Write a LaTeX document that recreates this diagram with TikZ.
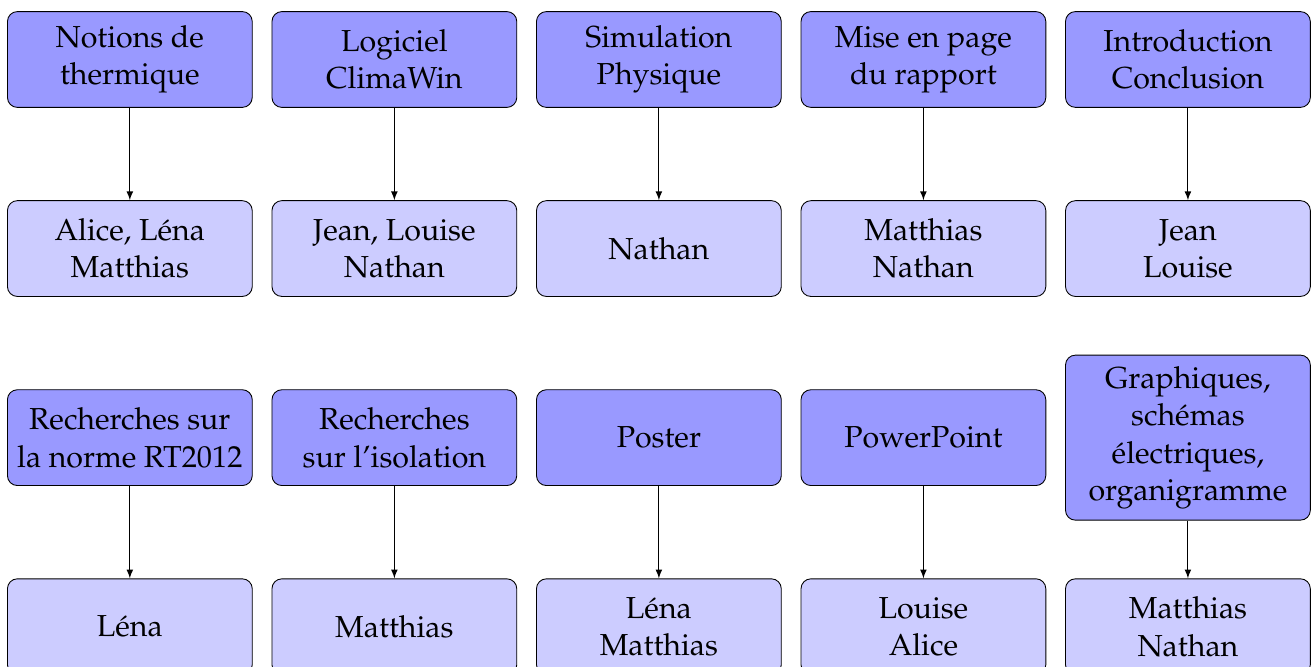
\documentclass[tikz,border=0pt]{standalone}
\usepackage[T1]{fontenc}
\usepackage{mathpazo}
\usepackage{tikz}
\usetikzlibrary{positioning}

\begin{document}
\begin{tikzpicture}[
    tache/.style={draw, rounded corners=4.5pt, fill=blue!40,
      minimum width=3.91cm, minimum height=1.53cm, align=center,
      font=\fontsize{13.8}{17}\selectfont},
    equipe/.style={tache, fill=blue!20},
    fleche/.style={-latex}
  ]
    % page size
    \useasboundingbox (0,0) rectangle (20.94,-10.64);

    % draw first row: tasks and who did them
    \foreach \i/\haut/\bas in {1/{Notions de\\thermique}/{Alice, L\'ena\\Matthias},
                               2/{Logiciel\\ClimaWin}/{Jean, Louise\\Nathan},
                               3/{Simulation\\Physique}/{Nathan},
                               4/{Mise en page\\du rapport}/{Matthias\\Nathan},
                               5/{Introduction\\Conclusion}/{Jean\\Louise}}
    {
      \node[tache] (ha\i) at (2.074+4.225*\i-4.225,-0.95) {\haut};
      \node[equipe] (ba\i) at (2.074+4.225*\i-4.225,-3.97) {\bas};
      \draw[fleche] (ha\i) -- (ba\i);
    }

    % draw second row
    \foreach \i/\haut/\bas in {1/{Recherches sur\\la norme RT2012}/{L\'ena},
                               2/{Recherches\\sur l'isolation}/{Matthias},
                               3/{Poster}/{L\'ena\\Matthias},
                               4/{PowerPoint}/{Louise\\Alice}}
    {
      \node[tache] (hb\i) at (2.074+4.225*\i-4.225,-6.99) {\haut};
      \node[equipe] (bb\i) at (2.074+4.225*\i-4.225,-10.01) {\bas};
      \draw[fleche] (hb\i) -- (bb\i);
    }

    % last one is taller
    \node[tache, minimum height=2.636cm] (hb5) at (18.974,-6.99)
      {Graphiques,\\sch\'emas\\\'electriques,\\organigramme};
    \node[equipe] (bb5) at (18.974,-10.01) {Matthias\\Nathan};
    \draw[fleche] (hb5) -- (bb5);

  \end{tikzpicture}
\end{document}
